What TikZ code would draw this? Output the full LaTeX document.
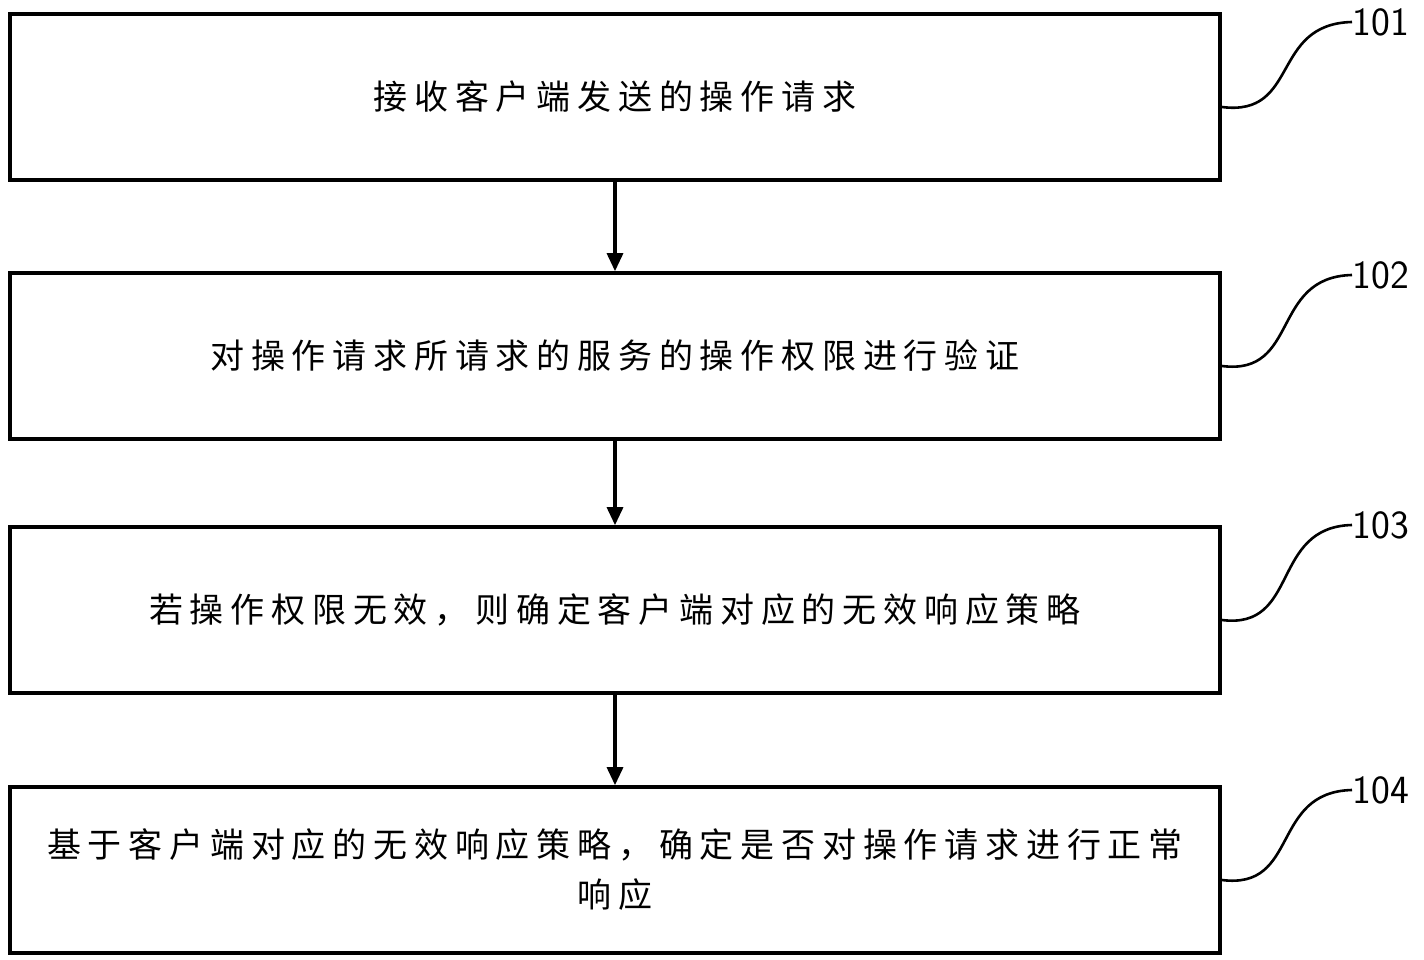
\documentclass[tikz,border=0pt]{standalone}
\usepackage{fontspec}
\newfontfamily\cjk[LetterSpace=20]{Noto Sans CJK SC}
\usetikzlibrary{arrows.meta}
\begin{document}
\begin{tikzpicture}[x=0.5pt,y=0.5pt]
\tikzset{stepbox/.style={draw,line width=1.8pt,minimum width=605pt,minimum height=83pt,inner sep=0pt,
    font=\cjk\fontsize{17pt}{25pt}\selectfont,text width=582pt,align=center},
  flow/.style={line width=1.6pt,-{Triangle[length=9pt,width=8pt]}},
  lead/.style={line width=1.3pt},
  tag/.style={font=\sffamily\fontsize{20pt}{20pt}\selectfont,anchor=west,inner sep=0pt}}
\path[use as bounding box] (0,0) rectangle (1424,959);

\node[stepbox] (s101) at (615,862) {接收客户端发送的操作请求};
\node[stepbox] (s102) at (615,603) {对操作请求所请求的服务的操作权限进行验证};
\node[stepbox] (s103) at (615,349) {若操作权限无效，则确定客户端对应的无效响应策略};
\node[stepbox] (s104) at (615,89) {基于客户端对应的无效响应策略，确定是否对操作请求进行正常\\响应};

\draw[flow] (s101) -- (s102);
\draw[flow] (s102) -- (s103);
\draw[flow] (s103) -- (s104);

% step numbers
\node[tag] (n101) at (1352,937) {101};
\node[tag] (n102) at (1352,684) {102};
\node[tag] (n103) at (1352,434) {103};
\node[tag] (n104) at (1352,169) {104};

\draw[lead] (s101.east) ++(0,-10) coordinate (c101) .. controls (1300,842) and (1270,935) .. (n101.west);
\draw[lead] (s102.east) ++(0,-10) coordinate (c102) .. controls (1300,583) and (1270,682) .. (n102.west);
\draw[lead] (s103.east) ++(0,-10) coordinate (c103) .. controls (1300,329) and (1270,432) .. (n103.west);
\draw[lead] (s104.east) ++(0,-10) coordinate (c104) .. controls (1300,69) and (1270,167) .. (n104.west);
\end{tikzpicture}
\end{document}
